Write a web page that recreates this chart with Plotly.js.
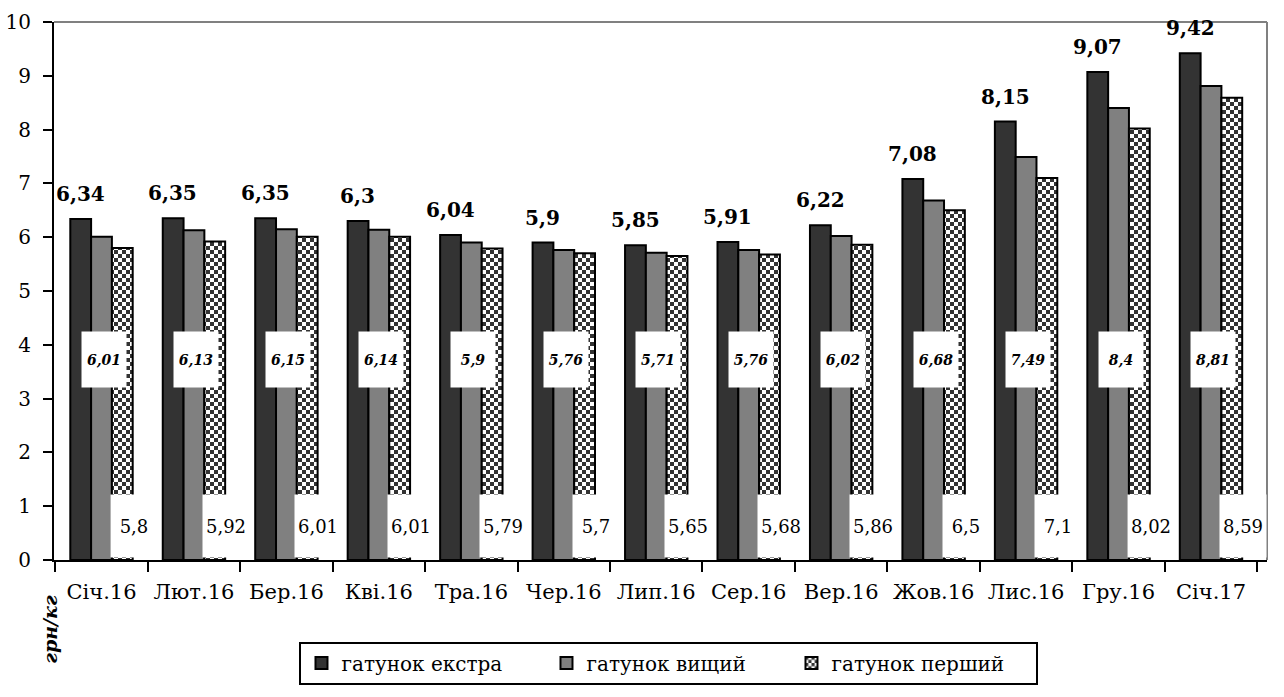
<!DOCTYPE html>
<html>
<head>
<meta charset="utf-8">
<script src="https://cdn.plot.ly/plotly-3.0.1.min.js"></script>
<style>
  html, body { margin: 0; padding: 0; background: #fff; }
  #chart { width: 1284px; height: 697px; }
</style>
</head>
<body>
<div id="chart"></div>
<script>
const categories = ['Січ.16','Лют.16','Бер.16','Кві.16','Тра.16','Чер.16','Лип.16','Сер.16','Вер.16','Жов.16','Лис.16','Гру.16','Січ.17'];
const extra  = [6.34, 6.35, 6.35, 6.3, 6.04, 5.9, 5.85, 5.91, 6.22, 7.08, 8.15, 9.07, 9.42];
const higher = [6.01, 6.13, 6.15, 6.14, 5.9, 5.76, 5.71, 5.76, 6.02, 6.68, 7.49, 8.4, 8.81];
const first  = [5.8, 5.92, 6.01, 6.01, 5.79, 5.7, 5.65, 5.68, 5.86, 6.5, 7.1, 8.02, 8.59];
const seriesNames = ['гатунок екстра', 'гатунок вищий', 'гатунок перший'];
const yTitle = 'грн/кг';

const FONT = 'DejaVu Serif';
const fmt = v => String(v).replace('.', ',');

const traces = [
  { type: 'bar', name: seriesNames[0], x: categories, y: extra,
    marker: { color: '#333333', line: { color: '#000', width: 2 } }, hoverinfo: 'none' },
  { type: 'bar', name: seriesNames[1], x: categories, y: higher,
    marker: { color: '#808080', line: { color: '#000', width: 2 } }, hoverinfo: 'none' },
  { type: 'bar', name: seriesNames[2], x: categories, y: first,
    marker: { color: '#ffffff', line: { color: '#000', width: 2 },
      pattern: { shape: '.', fgcolor: '#333333', bgcolor: '#ffffff', size: 8, solidity: 0.5 } },
    hoverinfo: 'none' }
];

const annotations = [];
categories.forEach((c, i) => {
  annotations.push({
    x: c, y: extra[i], xref: 'x', yref: 'y', text: fmt(extra[i]), showarrow: false,
    xshift: -21, yshift: 25, yanchor: 'middle',
    font: { family: FONT, size: 20, color: '#000', weight: 'bold' }
  });
  annotations.push({
    x: c, y: 3.72, xref: 'x', yref: 'y', text: fmt(higher[i]), showarrow: false,
    xshift: 2, yanchor: 'middle', width: 44, height: 55, borderpad: 0,
    bgcolor: '#ffffff',
    font: { family: FONT, size: 14, color: '#000', weight: 'bold', style: 'italic' }
  });
  annotations.push({
    x: c, y: 0, xref: 'x', yref: 'y', text: fmt(first[i]), showarrow: false,
    xshift: 32, yshift: 2, yanchor: 'bottom', width: 46, height: 62, borderpad: 0,
    valign: 'middle', bgcolor: '#ffffff',
    font: { family: FONT, size: 18, color: '#000' }
  });
});
annotations.push({
  xref: 'paper', yref: 'paper', x: -0.0033, y: -0.1277, xanchor: 'center', yanchor: 'middle',
  text: yTitle, textangle: -90, showarrow: false,
  font: { family: FONT, size: 19, color: '#000', weight: 'bold', style: 'italic' }
});

const layout = {
  width: 1284, height: 697,
  margin: { l: 54, r: 17, t: 22, b: 127 },
  paper_bgcolor: '#fff', plot_bgcolor: '#fff',
  font: { family: FONT, color: '#000' },
  barmode: 'group', bargap: 0.325, bargroupgap: 0,
  showlegend: true,
  legend: {
    orientation: 'h', x: 0.507, xanchor: 'center', y: -0.1515, yanchor: 'top',
    bordercolor: '#000', borderwidth: 2, bgcolor: '#fff',
    font: { family: FONT, size: 20, color: '#000' },
    entrywidth: 200, traceorder: 'normal'
  },
  xaxis: {
    type: 'category', showline: true, linecolor: '#000', linewidth: 2,
    ticks: 'outside', tickson: 'boundaries', ticklen: 10, tickwidth: 2, tickcolor: '#000',
    ticklabelstandoff: 12,
    tickfont: { family: FONT, size: 21, color: '#000' },
    showgrid: false, zeroline: false, fixedrange: true
  },
  yaxis: {
    range: [0, 10], dtick: 1, showline: true, linecolor: '#000', linewidth: 2,
    ticks: 'outside', ticklen: 9, tickwidth: 2, tickcolor: '#000',
    ticklabelstandoff: 8,
    tickfont: { family: FONT, size: 20, color: '#000' },
    showgrid: false, zeroline: false, fixedrange: true
  },
  shapes: [
    { type: 'line', xref: 'paper', yref: 'paper', x0: 0, x1: 1, y0: 1, y1: 1, line: { color: '#808080', width: 2 } },
    { type: 'line', xref: 'paper', yref: 'paper', x0: 1, x1: 1, y0: 0, y1: 1, line: { color: '#808080', width: 2 } }
  ],
  annotations: annotations
};

function checker() {
  const NS = 'http://www.w3.org/2000/svg';
  document.querySelectorAll('#chart pattern').forEach(p => {
    p.setAttribute('width', 8);
    p.setAttribute('height', 8);
    while (p.firstChild) p.removeChild(p.firstChild);
    const mk = (x, y, w, h, f) => {
      const r = document.createElementNS(NS, 'rect');
      r.setAttribute('x', x); r.setAttribute('y', y);
      r.setAttribute('width', w); r.setAttribute('height', h);
      r.setAttribute('fill', f);
      p.appendChild(r);
    };
    mk(0, 0, 8, 8, '#ffffff');
    mk(0, 0, 4, 4, '#333333');
    mk(4, 4, 4, 4, '#333333');
  });
}

Plotly.newPlot('chart', traces, layout, { staticPlot: true, displayModeBar: false }).then(checker);
</script>
</body>
</html>
